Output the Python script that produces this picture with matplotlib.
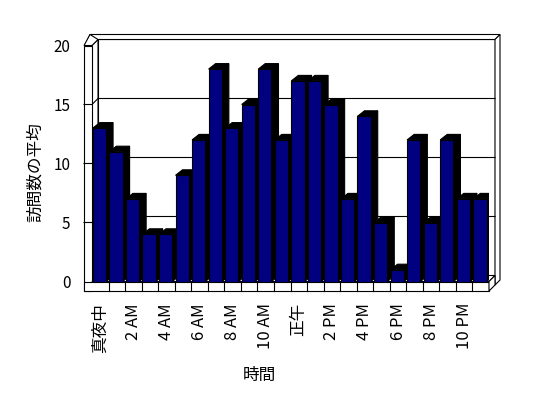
import matplotlib
matplotlib.use('Agg')
import matplotlib.pyplot as plt
from matplotlib.patches import Polygon

plt.rcParams['font.family'] = ['Noto Sans CJK JP', 'DejaVu Sans']

# data
visits = [13, 11, 7, 4, 4, 9, 12, 18, 13, 15, 18, 12,
          17, 17, 15, 7, 14, 5, 1, 12, 5, 12, 7, 7]
hour_labels = ['真夜中', '2 AM', '4 AM', '6 AM', '8 AM', '10 AM',
               '正午', '2 PM', '4 PM', '6 PM', '8 PM', '10 PM']
y_ticks = [0, 5, 10, 15, 20]

W, H = 548, 398
fig = plt.figure(figsize=(W / 100, H / 100), dpi=100)
# front plane: slots 0..24 -> x 92..489 px, values 0..20 -> y 281.5..45.5 px
ax = fig.add_axes([92 / W, (H - 281.5) / H, 397 / W, 236 / H])
n = len(visits)
ax.set_xlim(0, n)
ax.set_ylim(0, 20)

sx = 397 / n   # px per slot
sy = 236 / 20  # px per unit


def px(dx, dy):
    # pixel offset -> data offset (dy positive = up)
    return dx / sx, dy / sy


Dx, Dy = px(6, 6)       # depth of the chart box
bx, by = px(7, 5.5)     # depth of bars
tw, _ = px(8, 0)        # left wall thickness
_, fh = px(0, 9.5)      # floor thickness
cx, cy = px(5, 5)       # back wall thickness
top = 20
face = dict(facecolor='white', edgecolor='black', lw=0.8, clip_on=False, zorder=1)

# back wall
ax.add_patch(Polygon([(Dx, Dy), (n + Dx, Dy), (n + Dx, top + Dy), (Dx, top + Dy)], **face))
# back wall top and right side
ax.add_patch(Polygon([(Dx - tw, top + Dy + cy), (n + Dx + cx, top + Dy + cy),
                      (n + Dx, top + Dy), (Dx, top + Dy), (-tw + Dx * 0.3, top + Dy * 0.3)], **face))
ax.add_patch(Polygon([(n + Dx, top + Dy), (n + Dx + cx, top + Dy + cy),
                      (n + Dx + cx, Dy - fh + cy), (n + Dx, Dy - fh)], **face))
# left wall inner face and front face
ax.add_patch(Polygon([(0, 0), (Dx, Dy), (Dx, top + Dy), (0, top)], **face))
ax.add_patch(Polygon([(-tw, -fh), (0, -fh), (0, top), (-tw, top)], **face))
ax.add_patch(Polygon([(-tw, top), (0, top), (Dx, top + Dy), (Dx - tw, top + Dy + cy)], **face))
# floor top, front and right side
ax.add_patch(Polygon([(0, 0), (n, 0), (n + Dx, Dy), (Dx, Dy)], **face))
ax.add_patch(Polygon([(-tw, -fh), (n, -fh), (n, 0), (-tw, 0)], **face))
ax.add_patch(Polygon([(n, 0), (n, -fh), (n + Dx, -fh + Dy), (n + Dx, Dy)], **face))

# gridlines on walls and ticks on the left wall front
for v in y_ticks[1:-1]:
    ax.plot([-tw, 0, Dx, n + Dx], [v, v, v + Dy, v + Dy], color='black', lw=0.8,
            clip_on=False, zorder=1.5)
# category ticks on the floor front
for i in range(1, n):
    ax.plot([i, i], [0, -fh], color='black', lw=0.8, clip_on=False, zorder=1.5)

# bars, left to right so each covers the previous one's shadow
for i, v in enumerate(visits):
    x0, x1 = i + 0.05, i + 0.85
    z = 2 + i * 0.01
    ax.add_patch(Polygon([(x1, 0), (x1 + bx, by), (x1 + bx, v + by), (x1, v)],
                         facecolor='black', edgecolor='black', lw=0.8, zorder=z))
    ax.add_patch(Polygon([(x0, v), (x0 + bx, v + by), (x1 + bx, v + by), (x1, v)],
                         facecolor='black', edgecolor='black', lw=0.8, zorder=z))
    ax.bar(x0, v, width=0.8, align='edge', color='#000080', edgecolor='black',
           lw=0.8, zorder=z + 0.005)

for s in ax.spines.values():
    s.set_visible(False)
ax.patch.set_visible(False)
ax.set_yticks(y_ticks)
ax.set_yticklabels([str(v) for v in y_ticks], fontsize=11)
ax.set_xticks([i + 0.5 for i in range(0, n, 2)])
ax.set_xticklabels(hour_labels, rotation=90, fontsize=12)
ax.tick_params(axis='y', length=0, pad=15.5)
ax.tick_params(axis='x', length=0, pad=15.5)

fig.text(35 / W, 1 - 172 / H, '訪問数の平均', rotation=90, ha='center', va='center', fontsize=12)
fig.text(259 / W, 1 - 375 / H, '時間', ha='center', va='center', fontsize=12)

fig.savefig('out.png', dpi=100)
